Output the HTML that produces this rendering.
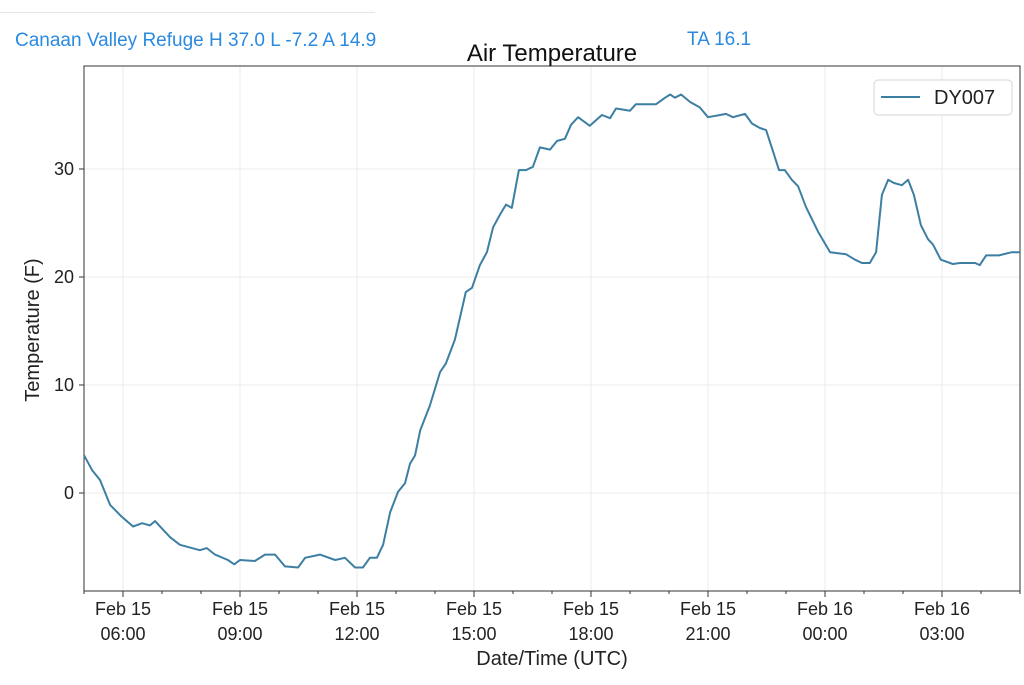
<!DOCTYPE html>
<html><head><meta charset="utf-8"><style>
body{margin:0;background:#fff;font-family:"Liberation Sans","DejaVu Sans",sans-serif;}
#wrap{position:relative;width:1024px;height:685px;overflow:hidden;}
.hdr{position:absolute;color:#2a8ae0;font-size:19px;}
</style></head><body>
<div id="wrap">
<div style="position:absolute;left:0;top:12px;width:375px;height:1px;background:#e4e4e4"></div>
<div class="hdr" style="left:15px;top:30px">Canaan Valley Refuge H 37.0 L -7.2 A 14.9</div>
<div class="hdr" style="left:687px;top:29px">TA 16.1</div>
<svg id="chart" width="1024" height="685" style="position:absolute;left:0;top:0"></svg>
</div>
<script>
const hours=[0,0.21,0.41,0.67,0.97,1.26,1.49,1.69,1.82,2.21,2.46,2.97,3.15,3.36,3.69,3.85,4.00,4.38,4.64,4.90,5.15,5.49,5.67,6.05,6.44,6.69,6.95,7.15,7.33,7.51,7.67,7.85,8.05,8.23,8.36,8.49,8.62,8.87,9.13,9.28,9.51,9.79,9.95,10.15,10.33,10.49,10.67,10.82,10.97,11.15,11.33,11.51,11.69,11.95,12.13,12.33,12.49,12.67,12.97,13.28,13.49,13.64,14.00,14.15,14.67,14.90,15.03,15.15,15.31,15.54,15.79,16.00,16.31,16.46,16.64,16.95,17.13,17.33,17.49,17.67,17.82,17.97,18.15,18.31,18.51,18.82,19.13,19.33,19.54,19.77,19.95,20.15,20.31,20.46,20.62,20.77,20.97,21.13,21.28,21.46,21.64,21.77,21.97,22.28,22.46,22.85,22.97,23.13,23.46,23.79,24.00];
const temps=[3.5,2.1,1.2,-1.1,-2.2,-3.1,-2.8,-3.0,-2.6,-4.1,-4.8,-5.3,-5.1,-5.7,-6.2,-6.6,-6.2,-6.3,-5.7,-5.7,-6.8,-6.9,-6.0,-5.7,-6.2,-6.0,-6.9,-6.9,-6.0,-6.0,-4.8,-1.8,0.1,0.9,2.7,3.5,5.8,8.1,11.2,12.0,14.2,18.6,19.0,21.1,22.3,24.6,25.8,26.7,26.4,29.9,29.9,30.2,32.0,31.8,32.6,32.8,34.1,34.8,34.0,35.0,34.7,35.6,35.4,36.0,36.0,36.6,36.9,36.6,36.9,36.2,35.7,34.8,35.0,35.1,34.8,35.1,34.2,33.8,33.6,31.6,29.9,29.9,29.0,28.4,26.5,24.2,22.3,22.2,22.1,21.6,21.3,21.3,22.3,27.6,29.0,28.7,28.5,29.0,27.6,24.8,23.5,23.0,21.6,21.2,21.3,21.3,21.1,22.0,22.0,22.3,22.3];
const yTicks=[0,10,20,30];
const xTickHours=[1,4,7,10,13,16,19,22];
const xTickLabels=[["Feb 15","06:00"],["Feb 15","09:00"],["Feb 15","12:00"],["Feb 15","15:00"],["Feb 15","18:00"],["Feb 15","21:00"],["Feb 16","00:00"],["Feb 16","03:00"]];
const seriesName="DY007";

const L=84,R=1020,T=66,B=591;
const X=h=>L+h*39;
const Y=v=>493-v*10.8;
const svg=document.getElementById('chart');
const NS='http://www.w3.org/2000/svg';
function mk(tag,attrs,parent){const e=document.createElementNS(NS,tag);for(const k in attrs)e.setAttribute(k,attrs[k]);(parent||svg).appendChild(e);return e;}

yTicks.forEach(v=>{
  const g=mk('line',{x1:L,x2:R,y1:Y(v),y2:Y(v),stroke:'#ebebeb','stroke-width':1});
  
  
  const t=mk('line',{x1:L-5,x2:L,y1:Y(v),y2:Y(v),stroke:'#333','stroke-width':1});
  
  
  const lab=mk('text',{x:L-10,y:Y(v)+6,'text-anchor':'end','font-size':18,fill:'#222'});
  lab.textContent=v;
  
  
});
xTickHours.forEach((h,i)=>{
  const g=mk('line',{x1:X(h),x2:X(h),y1:T,y2:B,stroke:'#ebebeb','stroke-width':1});
  
  
  const t=mk('line',{x1:X(h),x2:X(h),y1:B,y2:B+6,stroke:'#333','stroke-width':1});
  
  
  xTickLabels[i].forEach((s,j)=>{
    const lab=mk('text',{x:X(h),y:B+24+j*25,'text-anchor':'middle','font-size':18,fill:'#222'});
    lab.textContent=s;
    
    
  });
});
for(let h=0;h<=24;h++){
  if(xTickHours.includes(h))continue;
  const m=mk('line',{x1:X(h),x2:X(h),y1:B,y2:B+3,stroke:'#333','stroke-width':1});
  
  
}
const fr=mk('rect',{x:L,y:T,width:R-L,height:B-T,fill:'none',stroke:'#333','stroke-width':1});


const pts=hours.map((h,i)=>X(h).toFixed(1)+','+Y(temps[i]).toFixed(1)).join(' ');
const pl=mk('polyline',{points:pts,fill:'none',stroke:'#3d7fa3','stroke-width':2,'stroke-linejoin':'round'});


const ti=mk('text',{x:552,y:61,'text-anchor':'middle','font-size':24,fill:'#111'});
ti.textContent='Air Temperature';


const xt=mk('text',{x:552,y:665,'text-anchor':'middle','font-size':20,fill:'#222'});
xt.textContent='Date/Time (UTC)';


const yt=mk('text',{x:0,y:0,'text-anchor':'middle','font-size':20,fill:'#222',transform:'translate(39,330) rotate(-90)'});
yt.textContent='Temperature (F)';


const lg=mk('g',{});


mk('rect',{x:874,y:80,width:138,height:35,rx:4,fill:'#fff',stroke:'#d6d6d6'},lg);
mk('line',{x1:881,x2:920,y1:97,y2:97,stroke:'#3d7fa3','stroke-width':2},lg);
const lt=mk('text',{x:934,y:104,'font-size':20,fill:'#222'},lg);
lt.textContent=seriesName;


</script>
</body></html>
